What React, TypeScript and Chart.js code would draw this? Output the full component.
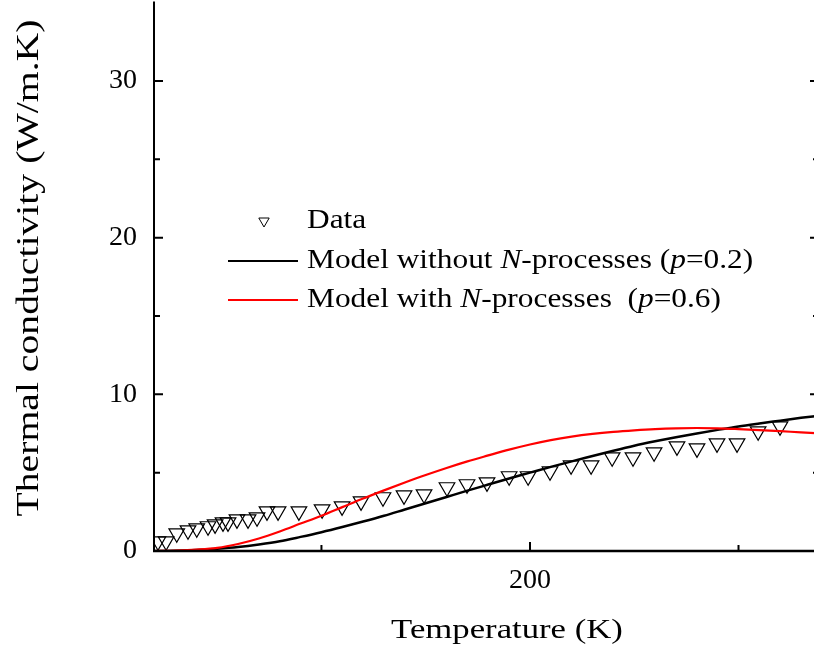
import React, { useEffect, useRef } from "react";
import { Chart, registerables } from "chart.js";

Chart.register(...registerables);

// Measured thermal conductivity (W/m.K) versus temperature (K)
const T_DATA = [
  21.6, 25.5, 30.6, 36.0, 40.2, 45.6, 49.0, 52.8, 55.2, 59.5, 64.8, 69.1, 73.9,
  79.2, 89.2, 100.3, 109.9, 119.0, 129.5, 139.6, 149.2, 160.2, 169.8, 179.4,
  190.0, 199.1, 209.6, 219.7, 229.3, 239.4, 249.4, 259.5, 270.5, 280.1, 289.7,
  299.3, 309.4, 319.9,
];
const K_DATA = [
  0.62, 0.62, 1.13, 1.32, 1.45, 1.58, 1.7, 1.83, 1.83, 2.02, 2.02, 2.15, 2.53,
  2.53, 2.53, 2.66, 2.85, 3.17, 3.43, 3.55, 3.62, 4.07, 4.26, 4.38, 4.77, 4.77,
  5.09, 5.47, 5.47, 5.98, 5.98, 6.3, 6.68, 6.55, 6.87, 6.87, 7.64, 7.96,
];

// Model curves
const T_MODEL = [
  20, 30, 40, 50, 60, 70, 80, 90, 100, 110, 120, 130, 140, 150, 160, 170, 180,
  190, 200, 210, 220, 230, 240, 250, 260, 270, 280, 290, 300, 310, 320, 330, 340,
];
const K_WITHOUT_N = [
  0, 0.02, 0.07, 0.15, 0.26, 0.42, 0.62, 0.9, 1.2, 1.53, 1.88, 2.25, 2.65, 3.05,
  3.45, 3.85, 4.24, 4.63, 5.0, 5.37, 5.72, 6.06, 6.4, 6.72, 7.0, 7.26, 7.5,
  7.73, 7.95, 8.14, 8.32, 8.5, 8.66,
];
const K_WITH_N = [
  0, 0.03, 0.09, 0.2, 0.45, 0.8, 1.25, 1.75, 2.25, 2.8, 3.35, 3.87, 4.37, 4.85,
  5.3, 5.72, 6.1, 6.47, 6.8, 7.08, 7.3, 7.47, 7.6, 7.7, 7.78, 7.83, 7.85, 7.83,
  7.78, 7.72, 7.65, 7.57, 7.5,
];

const X_MIN = 19.7;
const X_MAX = 338.6;
const Y_MIN = 0;
const Y_MAX = 35;
const X_MAJOR = [200];
const X_MINOR = [100, 300];
const Y_MAJOR = [0, 10, 20, 30];
const Y_MINOR = [5, 15, 25];

const PLOT_TOP = 2.6;
const SERIF = '"Liberation Serif", "Times New Roman", serif';

// draw text stretched horizontally by sx
function wideText(ctx: any, s: string, x: number, y: number, sx: number) {
  ctx.save();
  ctx.translate(x, y);
  ctx.scale(sx, 1);
  ctx.fillText(s, 0, 0);
  ctx.restore();
}

// pin the top of the plot area
const plotTopPlugin = {
  id: "plotTop",
  afterLayout(chart: any) {
    const ys = chart.scales.y;
    chart.chartArea.top = PLOT_TOP;
    chart.chartArea.height = chart.chartArea.bottom - PLOT_TOP;
    ys.top = PLOT_TOP;
    ys.height = ys.bottom - PLOT_TOP;
    ys.configure();
  },
};

const axesPlugin = {
  id: "frameAndLegend",
  afterDraw(chart: any) {
    const { ctx, chartArea } = chart;
    const xs = chart.scales.x;
    const ys = chart.scales.y;
    const { left, right, top, bottom } = chartArea;
    ctx.save();
    ctx.strokeStyle = "#000";
    ctx.lineCap = "butt";

    // axis lines
    ctx.lineWidth = 2;
    ctx.beginPath();
    ctx.moveTo(left, top - 1);
    ctx.lineTo(left, bottom + 1);
    ctx.stroke();
    ctx.lineWidth = 2.5;
    ctx.beginPath();
    ctx.moveTo(left - 1, bottom);
    ctx.lineTo(right + 2, bottom);
    ctx.stroke();

    // inward ticks
    ctx.lineWidth = 2;
    const vTick = (v: number, len: number) => {
      const x = xs.getPixelForValue(v);
      ctx.beginPath();
      ctx.moveTo(x, bottom);
      ctx.lineTo(x, bottom - len);
      ctx.stroke();
    };
    X_MAJOR.forEach((v) => vTick(v, 9));
    X_MINOR.forEach((v) => vTick(v, 6));
    const hTick = (v: number, len: number) => {
      const y = ys.getPixelForValue(v);
      ctx.beginPath();
      ctx.moveTo(left, y);
      ctx.lineTo(left + len, y);
      ctx.moveTo(right, y);
      ctx.lineTo(right - len, y);
      ctx.stroke();
    };
    Y_MAJOR.forEach((v) => hTick(v, 9));
    Y_MINOR.forEach((v) => hTick(v, 6));

    // axis titles
    ctx.fillStyle = "#000";
    ctx.textBaseline = "middle";
    ctx.textAlign = "center";
    ctx.font = `28px ${SERIF}`;
    wideText(ctx, "Temperature (K)", 507, 631, 1.24);
    ctx.save();
    ctx.translate(30, 268);
    ctx.rotate(-Math.PI / 2);
    ctx.font = `32px ${SERIF}`;
    wideText(ctx, "Thermal conductivity (W/m.K)", 0, 0, 1.24);
    ctx.restore();

    // legend
    const legendFont = 28;
    const stretch = 1.12;
    const textX = 307;
    const drawRich = (parts: [string, boolean][], x: number, y: number) => {
      ctx.save();
      ctx.translate(x, y);
      ctx.scale(stretch, 1);
      ctx.textAlign = "left";
      ctx.textBaseline = "middle";
      let cx = 0;
      parts.forEach(([s, it]) => {
        ctx.font = `${it ? "italic " : ""}${legendFont}px ${SERIF}`;
        ctx.fillText(s, cx, 0);
        cx += ctx.measureText(s).width;
      });
      ctx.restore();
    };
    // symbol
    const sx = 264, sy = 221, sr = 6;
    ctx.lineWidth = 1;
    ctx.beginPath();
    ctx.moveTo(sx - sr * 0.866, sy - sr * 0.5);
    ctx.lineTo(sx + sr * 0.866, sy - sr * 0.5);
    ctx.lineTo(sx, sy + sr);
    ctx.closePath();
    ctx.stroke();
    drawRich([["Data", false]], textX, 221);

    ctx.lineWidth = 2;
    ctx.strokeStyle = "#000";
    ctx.beginPath();
    ctx.moveTo(228, 261);
    ctx.lineTo(298, 261);
    ctx.stroke();
    drawRich(
      [
        ["Model without ", false],
        ["N", true],
        ["-processes (", false],
        ["p", true],
        ["=0.2)", false],
      ],
      textX,
      261
    );

    ctx.strokeStyle = "#ff0000";
    ctx.beginPath();
    ctx.moveTo(228, 300);
    ctx.lineTo(298, 300);
    ctx.stroke();
    drawRich(
      [
        ["Model with ", false],
        ["N", true],
        ["-processes  (", false],
        ["p", true],
        ["=0.6)", false],
      ],
      textX,
      300
    );
    ctx.restore();
  },
};

const noPad = (s: any) => {
  s.paddingTop = 0;
  s.paddingBottom = 0;
  s.paddingLeft = 0;
  s.paddingRight = 0;
};

export default function App() {
  const ref = useRef<HTMLCanvasElement | null>(null);

  useEffect(() => {
    document.body.style.margin = "0";
    const canvas = ref.current;
    if (!canvas) return;
    const toXY = (xs: number[], ys: number[]) => xs.map((x, i) => ({ x, y: ys[i] }));
    const chart = new Chart(canvas, {
      type: "scatter",
      data: {
        datasets: [
          {
            label: "Model without N-processes (p=0.2)",
            data: toXY(T_MODEL, K_WITHOUT_N),
            showLine: true,
            borderColor: "#000",
            borderWidth: 2.5,
            pointRadius: 0,
            cubicInterpolationMode: "monotone",
            order: 1,
          },
          {
            label: "Model with N-processes (p=0.6)",
            data: toXY(T_MODEL, K_WITH_N),
            showLine: true,
            borderColor: "#ff0000",
            borderWidth: 2.2,
            pointRadius: 0,
            cubicInterpolationMode: "monotone",
            order: 0,
          },
          {
            label: "Data",
            data: toXY(T_DATA, K_DATA),
            showLine: false,
            pointStyle: "triangle",
            rotation: 180,
            pointRadius: 9,
            borderColor: "#000",
            backgroundColor: "rgba(0,0,0,0)",
            pointBorderWidth: 1.2,
            order: 2,
          } as any,
        ],
      },
      options: {
        animation: false,
        responsive: false,
        maintainAspectRatio: false,
        devicePixelRatio: 1,
        layout: { padding: { left: 0, right: 11, top: 0, bottom: 0 } },
        plugins: {
          legend: { display: false },
          tooltip: { enabled: false },
        },
        scales: {
          x: {
            type: "linear",
            min: X_MIN,
            max: X_MAX,
            grid: { display: false, drawTicks: false },
            border: { display: false },
            afterBuildTicks: (s: any) => {
              s.ticks = X_MAJOR.map((v) => ({ value: v }));
            },
            afterFit: (s: any) => {
              s.height = 100;
              noPad(s);
            },
            ticks: {
              color: "#000",
              padding: 13,
              maxRotation: 0,
              font: { family: SERIF, size: 28 },
              callback: (v: any) => String(v),
            },
          },
          y: {
            type: "linear",
            min: Y_MIN,
            max: Y_MAX,
            grid: { display: false, drawTicks: false },
            border: { display: false },
            afterBuildTicks: (s: any) => {
              s.ticks = Y_MAJOR.map((v) => ({ value: v }));
            },
            afterFit: (s: any) => {
              s.width = 154;
              noPad(s);
            },
            ticks: {
              color: "#000",
              padding: 17,
              font: { family: SERIF, size: 28 },
              callback: (v: any) => String(v),
            },
          },
        },
      },
      plugins: [plotTopPlugin, axesPlugin],
    });
    return () => chart.destroy();
  }, []);

  return (
    <div style={{ width: 814, height: 651, overflow: "hidden", position: "relative", background: "#fff" }}>
      <canvas ref={ref} width={830} height={651} style={{ position: "absolute", left: 0, top: 0, width: 830, height: 651 }} />
    </div>
  );
}
